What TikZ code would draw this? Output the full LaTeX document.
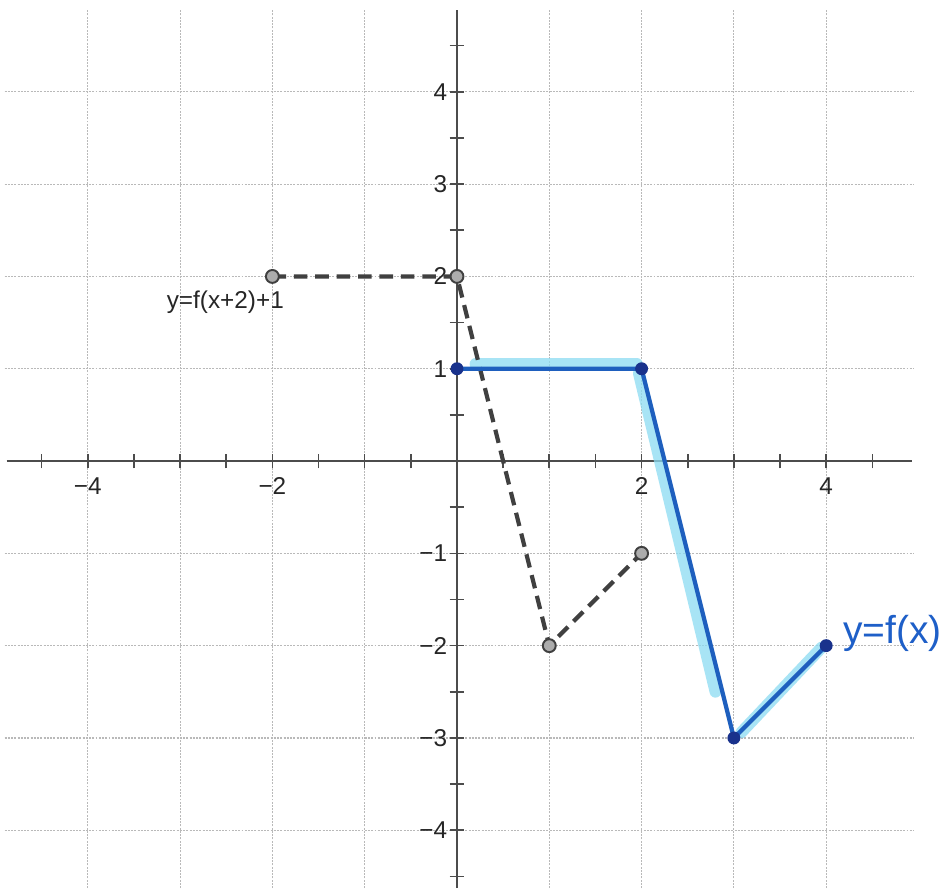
\documentclass[tikz,border=0pt]{standalone}
\usepackage{fontspec}
\setmainfont{Liberation Sans}
\begin{document}
\begin{tikzpicture}[x=1cm,y=1cm,
  gridline/.style={gray!55, line width=0.35pt, dash pattern=on 0.6pt off 0.4pt},
  axisline/.style={black!70, line width=0.85pt},
  tickmark/.style={black!70, line width=0.5pt},
  ticklab/.style={font=\fontsize{7.5}{8}\selectfont, text=black!85, inner sep=0pt},
  dashedgraph/.style={black!75, line width=1.3pt, dash pattern=on 4.2pt off 2.4pt},
  bluegraph/.style={draw={rgb,255:red,30;green,95;blue,190}, line width=1.3pt, line join=round},
  glow/.style={draw={rgb,255:red,140;green,220;blue,242}, line width=3.6pt, opacity=0.75, line cap=round},
  graydot/.style={circle, fill=gray!65, draw=black!75, line width=0.6pt, inner sep=0pt, minimum size=0.14cm},
  bluedot/.style={circle, fill={rgb,255:red,25;green,50;blue,140}, inner sep=0pt, minimum size=0.14cm}
]
\useasboundingbox (-4.951,-4.626) rectangle (5.309,4.995);
\fill[white] (-4.951,-4.626) rectangle (5.309,4.995);
% grid
\foreach \x in {-4,-3,-2,-1,1,2,3,4} \draw[gridline] (\x,-4.626) -- (\x,4.89);
\foreach \y in {-4,-3,-2,-1,1,2,3,4} \draw[gridline] (-4.9,\y) -- (4.95,\y);
% axes
\draw[axisline] (-4.88,0) -- (4.93,0);
\draw[axisline] (0,-4.626) -- (0,4.89);
\foreach \x in {-4.5,-4,...,4.5} \draw[tickmark] (\x,-0.08) -- (\x,0.08);
\foreach \y in {-4.5,-4,...,-0.5} \draw[tickmark] (-0.08,\y) -- (0.08,\y);
\foreach \y in {0.5,1,...,4.5} \draw[tickmark] (-0.08,\y) -- (0.08,\y);
% tick labels
\foreach \x/\l in {-4/−4,-2/−2,2/2,4/4} \node[ticklab, anchor=north] (xl\x) at (\x,-0.17) {\l};
\foreach \y/\l in {4/4,3/3,2/2,1/1,-1/−1,-2/−2,-3/−3,-4/−4} \node[ticklab, anchor=east] (yl\y) at (-0.1,\y) {\l};
% points
\coordinate (g1) at (-2,2);
\coordinate (g2) at (0,2);
\coordinate (g3) at (1,-2);
\coordinate (g4) at (2,-1);
\coordinate (b1) at (0,1);
\coordinate (b2) at (2,1);
\coordinate (b3) at (3,-3);
\coordinate (b4) at (4,-2);
% highlight
\draw[glow] (0.2,1.05) -- (1.95,1.05);
\draw[glow] (1.97,0.95) -- (2.8,-2.5);
\draw[glow] (3.08,-2.94) -- (3.95,-2.02);
% dashed graph
\draw[dashedgraph] (g1) -- (g2) -- (g3) -- (g4);
\foreach \p in {g1,g2,g3,g4} \node[graydot] at (\p) {};
% blue graph
\draw[bluegraph] (b1) -- (b2) -- (b3) -- (b4);
\foreach \p in {b1,b2,b3,b4} \node[bluedot] at (\p) {};
% labels
\node[font=\fontsize{7.5}{8}\selectfont, text=black!85, inner sep=0pt] (lab1) at (-2.51,1.72) {y=f(x+2)+1};
\node[font=\fontsize{12}{13}\selectfont, text={rgb,255:red,30;green,95;blue,200}, inner sep=0pt] (lab2) at (4.72,-1.87) {y=f(x)};
\end{tikzpicture}
\end{document}
